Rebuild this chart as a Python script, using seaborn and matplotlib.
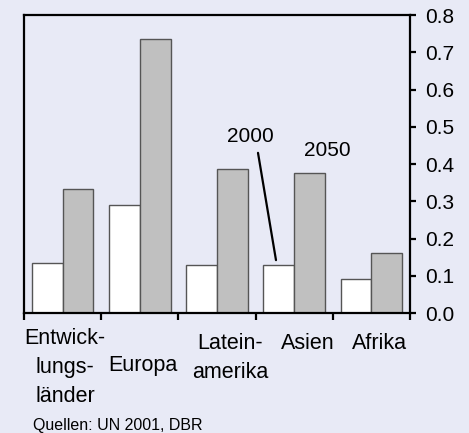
import matplotlib

matplotlib.use("Agg")
import matplotlib.pyplot as plt
import matplotlib.transforms as mtransforms
import numpy as np
import pandas as pd
import seaborn as sns

# data
regions = ["Entwicklungsländer", "Europa", "Lateinamerika", "Asien", "Afrika"]
region_labels = ["Entwick-\nlungs-\nländer", "Europa", "Latein-\namerika", "Asien", "Afrika"]
years = ["2000", "2050"]
values_2000 = [0.133, 0.29, 0.13, 0.13, 0.092]
values_2050 = [0.332, 0.735, 0.386, 0.376, 0.16]
y_ticks = [0.0, 0.1, 0.2, 0.3, 0.4, 0.5, 0.6, 0.7, 0.8]
source = "Quellen: UN 2001, DBR"

BG = "#e8eaf6"
BAR_COLORS = {"2000": "#ffffff", "2050": "#c0c0c0"}

df = pd.DataFrame(
    {
        "region": regions * 2,
        "jahr": [years[0]] * len(regions) + [years[1]] * len(regions),
        "wert": values_2000 + values_2050,
    }
)

sns.set_theme(style="white")
plt.rcParams["font.family"] = ["Liberation Sans", "DejaVu Sans"]

fig = plt.figure(figsize=(4.69, 4.33), dpi=100, facecolor=BG)
ax = fig.add_axes([0.0512, 0.2771, 0.8230, 0.6882])
ax.set_facecolor(BG)

sns.barplot(
    data=df,
    x="region",
    y="wert",
    hue="jahr",
    order=regions,
    hue_order=years,
    palette=BAR_COLORS,
    saturation=1,
    width=0.8,
    edgecolor="#555555",
    linewidth=1.0,
    legend=False,
    ax=ax,
)

ax.set_xlim(-0.5, len(regions) - 0.5)
ax.set_ylim(y_ticks[0], y_ticks[-1])
ax.set_xlabel("")
ax.set_ylabel("")

# y axis on the right
ax.yaxis.tick_right()
ax.set_yticks(y_ticks)
ax.set_yticklabels([f"{t:.1f}" for t in y_ticks])
ax.tick_params(axis="y", right=True, left=False, labelright=True, labelleft=False,
               direction="out", length=4, width=1.6, pad=7, labelsize=15,
               colors="black")

# x ticks sit between the categories
ax.set_xticks(np.arange(-0.5, len(regions), 1.0))
ax.tick_params(axis="x", bottom=True, direction="out", length=5, width=1.6,
               labelbottom=False, colors="black")

for sp in ax.spines.values():
    sp.set_visible(True)
    sp.set_color("black")
    sp.set_linewidth(1.6)

# category labels
trans = mtransforms.blended_transform_factory(ax.transData, ax.transAxes)
label_dx = [0.03, 0.04, 0.17, 0.18, 0.11]
label_y = [-0.050, -0.141, -0.067, -0.067, -0.067]
for i, lab in enumerate(region_labels):
    ax.text(i + label_dx[i], label_y[i], lab, transform=trans, ha="center",
            va="top", fontsize=15.5, linespacing=1.5, color="black")

# year callouts
asia = regions.index("Asien")
ax.text(2.427, 0.473, years[0], ha="center", va="center", fontsize=15, color="black")
ax.text(3.431, 0.435, years[1], ha="center", va="center", fontsize=15, color="black")
ax.annotate("", xy=(asia - 0.236, values_2000[asia] + 0.012), xytext=(2.531, 0.430),
            arrowprops=dict(arrowstyle="-", lw=1.6, color="black",
                            shrinkA=0, shrinkB=0))

fig.text(0.070, 0.007, source, ha="left", va="baseline", fontsize=11.5, color="black")

fig.savefig("out.png", dpi=100, facecolor=BG)
